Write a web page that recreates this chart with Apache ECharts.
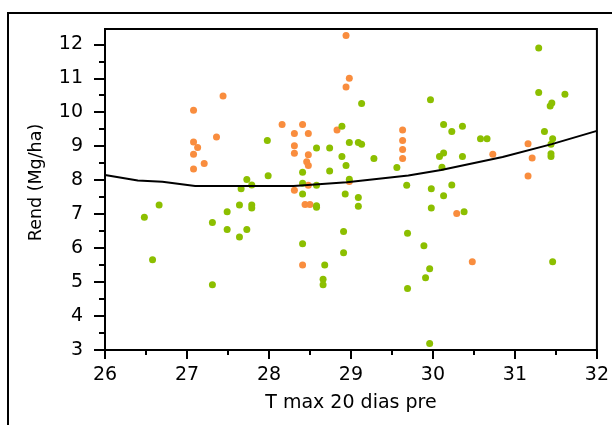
<!DOCTYPE html>
<html>
<head>
<meta charset="utf-8">
<script src="https://cdn.jsdelivr.net/npm/echarts@6/dist/echarts.min.js"></script>
<style>html,body{margin:0;padding:0;background:#fff}#c{width:612px;height:425px}</style>
</head>
<body>
<div id="c"></div>
<script>
// Tick labels
const xTicks = [26, 27, 28, 29, 30, 31, 32];
const yTicks = [3, 4, 5, 6, 7, 8, 9, 10, 11, 12];
const yMax = 12.45;

// Orange group: [T max, Rend]
const orangeX = [27.08, 27.44, 27.36, 27.08, 27.13, 27.08, 27.21, 27.08, 28.94, 28.98, 28.94, 28.16, 28.41, 28.31, 28.48, 28.83, 28.31, 28.31, 28.48, 28.46, 28.48, 28.48, 28.98, 28.31, 29.63, 29.63, 29.63, 29.63, 28.44, 28.50, 28.41, 30.29, 30.48, 31.16, 30.73, 31.21, 31.16];
const orangeY = [10.06, 10.48, 9.27, 9.12, 8.96, 8.76, 8.49, 8.33, 12.26, 11.00, 10.74, 9.64, 9.64, 9.37, 9.37, 9.48, 9.01, 8.79, 8.75, 8.54, 8.43, 7.85, 7.96, 7.70, 9.48, 9.17, 8.90, 8.64, 7.28, 7.28, 5.50, 7.02, 5.60, 9.07, 8.76, 8.65, 8.12];

// Green group
const greenX = [26.66, 26.48, 26.58, 27.31, 27.31, 27.49, 27.49, 27.64, 27.64, 27.73, 27.79, 27.79, 27.66, 27.79, 27.73, 27.99, 27.98, 28.41, 28.41, 28.41, 28.41, 28.58, 28.58, 28.58, 28.58, 28.68, 28.66, 28.66, 28.74, 28.74, 28.89, 28.89, 28.94, 28.98, 28.98, 28.93, 28.91, 28.91, 29.09, 29.13, 29.13, 29.09, 29.09, 29.28, 29.56, 29.68, 29.69, 29.69, 29.89, 29.91, 29.96, 29.96, 29.97, 29.98, 29.98, 30.08, 30.11, 30.13, 30.13, 30.13, 30.23, 30.23, 30.36, 30.36, 30.38, 30.58, 30.66, 31.29, 31.29, 31.61, 31.45, 31.43, 31.36, 31.46, 31.44, 31.44, 31.44, 31.46];
const greenY = [7.27, 6.91, 5.66, 6.75, 4.92, 7.07, 6.55, 7.27, 6.33, 6.55, 7.27, 7.18, 7.75, 7.86, 8.02, 8.13, 9.17, 8.23, 7.91, 7.59, 6.13, 8.95, 7.85, 7.20, 7.25, 5.50, 5.08, 4.92, 8.95, 8.27, 9.59, 8.70, 8.43, 9.11, 8.03, 7.59, 6.49, 5.86, 9.11, 9.06, 10.26, 7.49, 7.23, 8.64, 8.37, 7.85, 6.44, 4.81, 6.07, 5.13, 5.39, 3.19, 10.37, 7.75, 7.18, 8.70, 8.38, 8.80, 9.64, 7.54, 9.43, 7.86, 9.59, 8.70, 7.07, 9.22, 9.22, 11.89, 10.58, 10.53, 10.27, 10.18, 9.43, 9.22, 9.06, 8.70, 8.78, 5.60];

// Trend line
const trendX = [26, 26.4, 26.7, 27.1, 28.3, 28.95, 29.7, 30.1, 30.85, 31.45, 32];
const trendY = [8.15, 7.99, 7.95, 7.83, 7.83, 7.94, 8.14, 8.30, 8.68, 9.06, 9.45];

const zip = (a, b) => a.map((v, i) => [v, b[i]]);
const FONT = 'DejaVu Sans';

const chart = echarts.init(document.getElementById('c'), null, {renderer: 'canvas'});
chart.setOption({
  animation: false,
  backgroundColor: '#fff',
  grid: {left: 105, right: 14, top: 29, bottom: 75, show: true, borderColor: '#000', borderWidth: 2, backgroundColor: 'transparent'},
  graphic: [{
    type: 'rect', silent: true, z: -1,
    shape: {x: 8, y: 13, width: 700, height: 500},
    style: {fill: 'transparent', stroke: '#000', lineWidth: 2}
  }],
  xAxis: {
    type: 'value', min: xTicks[0], max: xTicks[xTicks.length - 1], interval: 1,
    name: 'T max 20 dias pre', nameLocation: 'middle', nameGap: 44,
    nameTextStyle: {fontFamily: FONT, fontSize: 19, color: '#000'},
    axisLine: {show: true, onZero: false, lineStyle: {color: '#000', width: 2}},
    axisTick: {show: true, inside: false, length: 9, lineStyle: {color: '#000', width: 2}},
    minorTick: {show: true, splitNumber: 2, length: 5, lineStyle: {color: '#000', width: 2}},
    splitLine: {show: false},
    axisLabel: {fontFamily: FONT, fontSize: 19, color: '#000', margin: 16}
  },
  yAxis: {
    type: 'value', min: yTicks[0], max: yMax, interval: 1,
    name: 'Rend (Mg/ha)', nameLocation: 'middle', nameGap: 60, nameRotate: 90,
    nameTextStyle: {fontFamily: FONT, fontSize: 17.5, color: '#000', padding: [0, 0, 0, 14]},
    axisLine: {show: true, onZero: false, lineStyle: {color: '#000', width: 2}},
    axisTick: {show: true, inside: false, length: 11, customValues: yTicks, lineStyle: {color: '#000', width: 2}},
    minorTick: {show: true, splitNumber: 2, length: 6, lineStyle: {color: '#000', width: 2}},
    splitLine: {show: false},
    axisLabel: {fontFamily: FONT, fontSize: 19, color: '#000', margin: 22, customValues: yTicks}
  },
  series: [
    {type: 'scatter', data: zip(orangeX, orangeY), symbol: 'circle', symbolSize: 7, itemStyle: {color: '#F98D3E', opacity: 1}},
    {type: 'scatter', data: zip(greenX, greenY), symbol: 'circle', symbolSize: 7, itemStyle: {color: '#8CBF00', opacity: 1}},
    {type: 'line', data: zip(trendX, trendY), showSymbol: false, symbol: 'none', lineStyle: {color: '#000', width: 2}, z: 3}
  ]
});
</script>
</body>
</html>
